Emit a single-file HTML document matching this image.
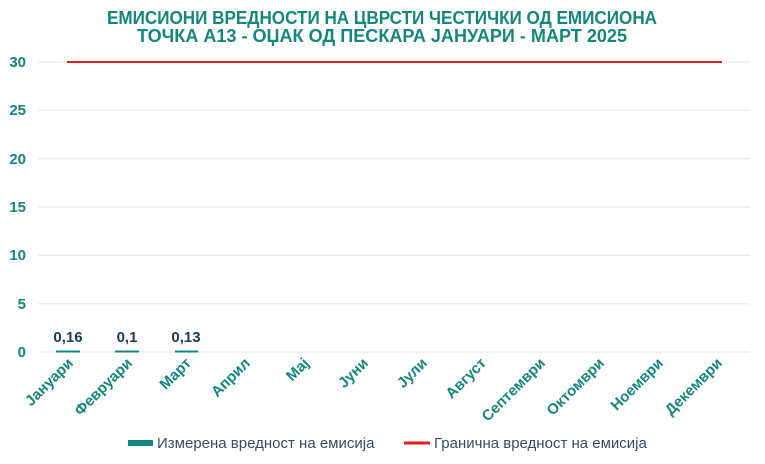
<!DOCTYPE html>
<html><head><meta charset="utf-8"><style>
body{margin:0;background:#fff;}
svg{display:block;font-family:"Liberation Sans","DejaVu Sans",sans-serif;}
</style></head><body>
<svg width="765" height="464" viewBox="0 0 765 464">
<g font-weight="bold" font-size="18" fill="#14877d" text-anchor="middle">
<text x="382" y="24" textLength="550" lengthAdjust="spacingAndGlyphs">ЕМИСИОНИ ВРЕДНОСТИ НА ЦВРСТИ ЧЕСТИЧКИ ОД ЕМИСИОНА</text>
<text x="382" y="42" textLength="490" lengthAdjust="spacingAndGlyphs">ТОЧКА А13 - ОЏАК ОД ПЕСКАРА ЈАНУАРИ - МАРТ 2025</text>
</g>
<g stroke="#e6e6e6" stroke-width="1">
<line x1="38" x2="750" y1="62" y2="62"/><line x1="38" x2="750" y1="110.3" y2="110.3"/>
<line x1="38" x2="750" y1="158.7" y2="158.7"/><line x1="38" x2="750" y1="207" y2="207"/>
<line x1="38" x2="750" y1="255.3" y2="255.3"/><line x1="38" x2="750" y1="303.7" y2="303.7"/>
<line x1="38" x2="750" y1="352" y2="352"/>
</g>
<g font-weight="bold" font-size="15" fill="#14877d" text-anchor="end">
<text x="26" y="67">30</text><text x="26" y="115">25</text><text x="26" y="164">20</text>
<text x="26" y="212">15</text><text x="26" y="260">10</text><text x="26" y="309">5</text>
<text x="26" y="357">0</text>
</g>
<line x1="67" x2="722" y1="62" y2="62" stroke="#e01e1e" stroke-width="2"/>
<g fill="#14877d">
<rect x="56" y="350.5" width="24" height="2"/>
<rect x="115" y="350.5" width="24" height="2"/>
<rect x="175" y="350.5" width="23" height="2"/>
</g>
<g font-weight="bold" font-size="15" fill="#1f3b63" text-anchor="middle">
<text x="68" y="342">0,16</text><text x="127" y="342">0,1</text><text x="186" y="342">0,13</text>
</g>
<g font-weight="bold" font-size="15" fill="#14877d" text-anchor="end">
<text transform="translate(74,364) rotate(-45)">Јануари</text>
<text transform="translate(133,364) rotate(-45)">Февруари</text>
<text transform="translate(192,364) rotate(-45)">Март</text>
<text transform="translate(251,364) rotate(-45)">Април</text>
<text transform="translate(310,364) rotate(-45)">Мај</text>
<text transform="translate(369,364) rotate(-45)">Јуни</text>
<text transform="translate(428,364) rotate(-45)">Јули</text>
<text transform="translate(487,364) rotate(-45)">Август</text>
<text transform="translate(546,364) rotate(-45)">Септември</text>
<text transform="translate(605,364) rotate(-45)">Октомври</text>
<text transform="translate(664,364) rotate(-45)">Ноември</text>
<text transform="translate(723,364) rotate(-45)">Декември</text>
</g>
<rect x="128" y="440" width="25" height="6" fill="#14877d"/>
<text x="157" y="448" font-size="15" fill="#3a4a66">Измерена вредност на емисија</text>
<line x1="404" x2="430" y1="443" y2="443" stroke="#e01e1e" stroke-width="3"/>
<text x="434" y="448" font-size="15" fill="#3a4a66">Гранична вредност на емисија</text>
</svg>
</body></html>
